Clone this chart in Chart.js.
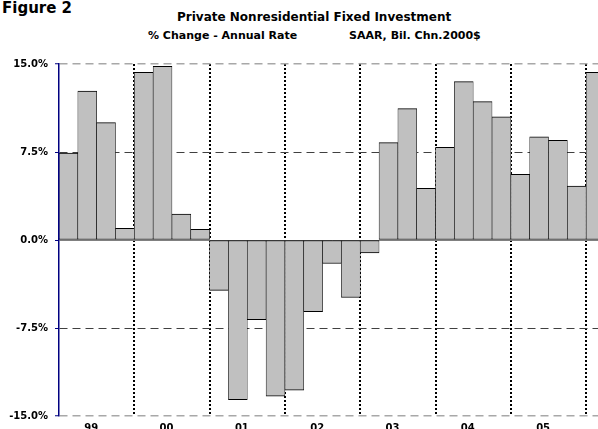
<!DOCTYPE html>
<html>
<head>
<meta charset="utf-8">
<script src="https://cdn.jsdelivr.net/npm/chart.js@4"></script>
<style>
  html, body { margin:0; padding:0; overflow:hidden; background:#fff; width:598px; height:429px; }
  .t { position:absolute; white-space:pre; font-family:"DejaVu Sans", sans-serif; font-weight:bold; color:#000; }
  #wrap { position:absolute; left:0; top:0; width:605px; height:429px; }
</style>
</head>
<body>
<div class="t" style="left:2px; top:1px; font-size:15px; line-height:15px;">Figure 2</div>
<div class="t" style="left:177px; top:11px; font-size:12px; line-height:12px;">Private Nonresidential Fixed Investment</div>
<div class="t" style="left:148px; top:30px; font-size:11px; line-height:11px;">% Change - Annual Rate</div>
<div class="t" style="left:349px; top:30px; font-size:11px; line-height:11px;">SAAR, Bil. Chn.2000$</div>
<div id="wrap"><canvas id="c"></canvas></div>
<script>
const quarters = ['1999Q1','1999Q2','1999Q3','1999Q4','2000Q1','2000Q2','2000Q3','2000Q4',
  '2001Q1','2001Q2','2001Q3','2001Q4','2002Q1','2002Q2','2002Q3','2002Q4',
  '2003Q1','2003Q2','2003Q3','2003Q4','2004Q1','2004Q2','2004Q3','2004Q4',
  '2005Q1','2005Q2','2005Q3','2005Q4','2006Q1'];
const pctChange = [7.4, 12.7, 10.0, 1.0, 14.3, 14.8, 2.2, 0.9,
  -4.3, -13.6, -6.8, -13.3, -12.8, -6.1, -2.0, -4.9,
  -1.1, 8.3, 11.2, 4.4, 7.9, 13.5, 11.8, 10.5,
  5.6, 8.8, 8.5, 4.6, 14.3];
const yearLabels = ['99','00','01','02','03','04','05'];
const yTicks = [-15, -7.5, 0, 7.5, 15];

const FONT = '"DejaVu Sans", sans-serif';

new Chart(document.getElementById('c'), {
  type: 'bar',
  data: {
    labels: quarters,
    datasets: [{
      data: pctChange,
      backgroundColor: '#c0c0c0',
      borderColor: '#000000',
      borderWidth: {top:1, bottom:1, left:0.6, right:0.6},
      borderSkipped: false,
      barPercentage: 1.0,
      categoryPercentage: 1.0
    }]
  },
  options: {
    responsive: true,
    maintainAspectRatio: false,
    animation: false,
    layout: { padding: { top: 64, left: 0, right: 0, bottom: 0 } },
    plugins: { legend: { display: false }, title: { display: false }, tooltip: { enabled: false } },
    scales: {
      x: {
        type: 'category',
        offset: true,
        grid: {
          offset: true,
          drawTicks: false,
          lineWidth: 2,
          color: (ctx) => (ctx.index % 4 === 0 && ctx.index > 0 && ctx.index < quarters.length) ? '#000000' : 'rgba(0,0,0,0)'
        },
        border: { display: false, dash: [2, 2] },
        ticks: {
          autoSkip: false,
          maxRotation: 0,
          minRotation: 0,
          padding: 6,
          labelOffset: 4,
          color: '#000',
          font: { family: FONT, size: 10, weight: 'bold' },
          callback: (v, i) => (i % 4 === 1) ? (yearLabels[(i - 1) / 4] || '') : ''
        },
        afterFit: (s) => { s.height = 13; }
      },
      y: {
        min: -15,
        max: 15,
        afterBuildTicks: (s) => { s.ticks = yTicks.map(v => ({ value: v })); },
        grid: {
          drawTicks: true,
          tickLength: 4,
          tickColor: '#000080',
          tickWidth: 1,
          tickBorderDash: [],
          lineWidth: (ctx) => (ctx.tick && Math.abs(ctx.tick.value) === 15) ? 1.5 : 1,
          color: (ctx) => {
            const v = ctx.tick ? ctx.tick.value : 0;
            if (Math.abs(v) === 15) return '#a8a8a8';
            if (v === 0) return '#808080';
            return '#404040';
          }
        },
        border: {
          display: true,
          color: '#000080',
          width: 1.5,
          z: 1,
          dash: (ctx) => (!ctx.tick || ctx.tick.value === 0) ? [] : [8, 5]
        },
        ticks: {
          padding: 7,
          color: '#000',
          font: { family: FONT, size: 10, weight: 'bold' },
          callback: (v) => Number(v).toFixed(1) + '%'
        },
        afterFit: (s) => { s.width = 59; }
      }
    }
  }
});
</script>
</body>
</html>
